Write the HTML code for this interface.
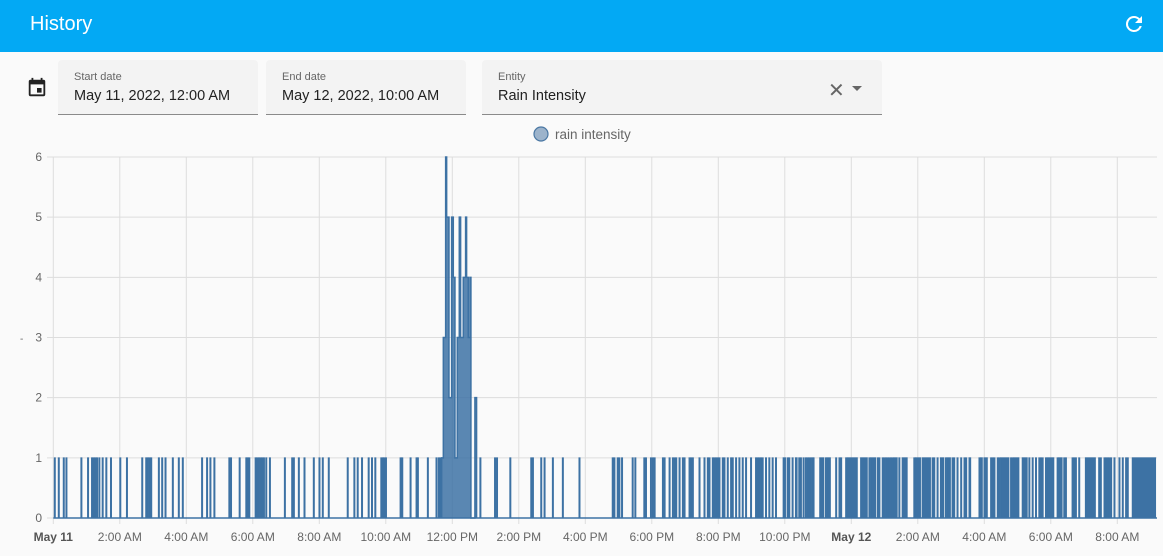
<!DOCTYPE html>
<html><head><meta charset="utf-8">
<style>
body{margin:0;width:1163px;height:556px;background:#fafafa;font-family:"Liberation Sans",sans-serif;overflow:hidden;position:relative}
.hdr{position:absolute;left:0;top:0;width:1163px;height:52px;background:#03a9f4}
.ttl{position:absolute;left:30px;top:13px;font-size:20px;color:#fff}
.fld{position:absolute;top:60px;height:54px;background:#f3f3f3;border-bottom:1px solid #8a8a8a;border-radius:4px 4px 0 0}
.lbl{position:absolute;left:16px;top:11px;font-size:11px;color:#666}
.val{position:absolute;left:16px;top:28px;font-size:14.5px;color:#222}
</style></head><body>
<div class="hdr"><div class="ttl">History</div>
<svg style="position:absolute;left:1122px;top:12px" width="24" height="24" viewBox="0 0 24 24"><path fill="#fff" d="M17.65 6.35A7.96 7.96 0 0 0 12 4a8 8 0 1 0 7.73 10h-2.08A6 6 0 1 1 12 6c1.66 0 3.14.69 4.22 1.78L13 11h7V4l-2.35 2.35z"/></svg></div>
<svg style="position:absolute;left:26px;top:77px" width="22" height="22" viewBox="0 0 24 24"><path fill="#222" d="M19 3h-1V1h-2v2H8V1H6v2H5a2 2 0 0 0-2 2v14a2 2 0 0 0 2 2h14a2 2 0 0 0 2-2V5a2 2 0 0 0-2-2zm0 16H5V8h14v11zM12 12h5v5h-5z"/></svg>
<div class="fld" style="left:58px;width:200px"><div class="lbl">Start date</div><div class="val">May 11, 2022, 12:00 AM</div></div>
<div class="fld" style="left:266px;width:200px"><div class="lbl">End date</div><div class="val">May 12, 2022, 10:00 AM</div></div>
<div class="fld" style="left:482px;width:400px"><div class="lbl">Entity</div><div class="val">Rain Intensity</div>
<span style="position:absolute;left:346px;top:18px;font-size:20px;color:#666">✕</span>
<span style="position:absolute;left:370px;top:26px;width:0;height:0;border-left:5px solid transparent;border-right:5px solid transparent;border-top:5px solid #666"></span></div>
<svg id="chart" style="position:absolute;left:0;top:0" width="1163" height="556"></svg>
<script>
const yTicks=[0,1,2,3,4,5,6];
const xTickHours=[0,2,4,6,8,10,12,14,16,18,20,22,24,26,28,30,32];
const xTickLabels=["May 11","2:00 AM","4:00 AM","6:00 AM","8:00 AM","10:00 AM","12:00 PM","2:00 PM","4:00 PM","6:00 PM","8:00 PM","10:00 PM","May 12","2:00 AM","4:00 AM","6:00 AM","8:00 AM"];
const spikeHours=[0.03,0.15,0.30,0.38,0.83,1.03,1.15,1.2,1.25,1.3,1.37,1.47,1.58,1.72,2.0,2.2,2.66,2.78,2.83,2.88,2.93,3.16,3.26,3.36,3.58,3.76,3.88,4.46,4.61,4.71,4.83,5.28,5.33,5.59,5.79,5.83,5.88,6.07,6.12,6.17,6.22,6.27,6.32,6.39,6.5,6.95,7.17,7.22,7.37,7.54,7.82,7.99,8.09,8.27,8.84,9.04,9.14,9.27,9.47,9.57,9.67,9.85,9.9,9.94,9.99,10.43,10.48,10.73,10.91,10.95,11.25,11.51,11.58,11.63,12.83,13.27,13.33,13.73,14.36,14.41,14.66,14.76,15.01,15.31,15.81,16.81,16.86,16.96,17.01,17.09,17.41,17.49,17.76,17.81,17.96,18.02,18.07,18.32,18.37,18.52,18.62,18.67,18.72,18.82,18.92,18.97,19.12,19.17,19.22,19.42,19.57,19.67,19.72,19.82,19.87,19.92,19.97,20.02,20.12,20.17,20.27,20.37,20.42,20.52,20.62,20.72,20.82,20.97,21.12,21.17,21.22,21.27,21.32,21.42,21.52,21.62,21.72,22.07,22.12,22.22,22.42,22.47,22.55,22.62,22.67,22.72,22.77,22.82,22.85,23.22,23.53,23.63,23.68,23.83,24.53,24.78,24.83,24.93,24.98,25.03,25.08,25.13,25.18,25.23,25.43,25.88,26.43,26.48,26.58,26.83,27.03,27.08,27.18,27.29,27.39,27.44,27.84,28.19,28.24,28.29,28.39,28.44,28.79,28.84,29.34,29.44,29.54,29.64,29.69,29.74,29.84,30.19,30.39,30.44,30.64,30.69,30.74,30.84,31.44,31.49,31.6,31.65,31.7,31.75,31.8,31.9,32.05,32.15,32.25,32.3];
const blockStarts=[21.95,22.32,23.05,23.27,23.88,24.28,24.58,25.28,25.53,25.93,26.13,26.68,26.88,27.54,27.89,27.99,28.49,28.89,29.14,29.89,30.24,31.04,32.45];
const blockEnds=[22.02,22.37,23.17,23.37,24.18,24.48,24.73,25.38,25.68,26.08,26.38,26.78,26.98,27.59,27.94,28.09,28.74,29.04,29.29,30.09,30.34,31.34,33.15];
const peakHours=[11.68,11.73,11.80,11.83,11.90,11.93,11.98,12.03,12.08,12.15,12.21,12.25,12.33,12.40,12.43,12.48,12.53,12.56,12.68,12.73];
const peakValues=[1,3,6,5,2,2,5,4,1,3,5,3,4,5,4,3,4,0,2,0];
const svg=document.getElementById('chart');const NS='http://www.w3.org/2000/svg';
const X0=53.3,PXH=33.25,Y0=518,PXU=60.17,XR=1157;
const xs=h=>X0+h*PXH, ys=v=>Y0-v*PXU;
function mk(t,a){const e=document.createElementNS(NS,t);for(const k in a)e.setAttribute(k,a[k]);svg.appendChild(e);return e;}
yTicks.forEach((v,i)=>{const l=mk('line',{x1:47,x2:XR,y1:ys(v),y2:ys(v),stroke:'#ddd','stroke-width':1});


const t=mk('text',{x:42,y:ys(v)+4,'text-anchor':'end','font-size':12,fill:'#666'});t.textContent=v;

});
xTickHours.forEach((h,i)=>{const l=mk('line',{x1:xs(h),x2:xs(h),y1:157,y2:524,stroke:'#ddd','stroke-width':1});


const bold=xTickLabels[i].startsWith('May');
const t=mk('text',{x:xs(h),y:541,'text-anchor':'middle','font-size':12,fill:bold?'#555':'#666','font-weight':bold?'bold':'normal'});t.textContent=xTickLabels[i];

});
const yt=mk('text',{x:20,y:342,'font-size':10,fill:'#666'});yt.textContent='-';


const C='#3d72a4';
const base=mk('line',{x1:X0,x2:XR,y1:Y0,y2:Y0,stroke:C,'stroke-width':1.5});


spikeHours.forEach(h=>{const x=xs(h);const p=mk('path',{d:`M${x},${Y0}V${ys(1)}H${x+1}V${Y0}`,fill:'none',stroke:C,'stroke-width':1});

});
blockStarts.forEach((s,i)=>{const r=mk('rect',{x:xs(s),y:ys(1),width:xs(blockEnds[i])-xs(s),height:Y0-ys(1),fill:C,stroke:C,'stroke-width':1});

});
let d=`M${xs(peakHours[0])},${Y0}`;
peakHours.forEach((h,i)=>{d+=`H${xs(h)}V${ys(peakValues[i])}`;});
const pk=mk('path',{d:d+`V${Y0}`,fill:'rgba(61,114,164,0.85)',stroke:C,'stroke-width':1.5});


const lc=mk('circle',{cx:541,cy:134,r:7,fill:'#9cb3cb',stroke:'#4a77a3','stroke-width':1.2});


const lt=mk('text',{x:555,y:139,'font-size':13.5,fill:'#666'});lt.textContent='rain intensity';


</script>
</body></html>
